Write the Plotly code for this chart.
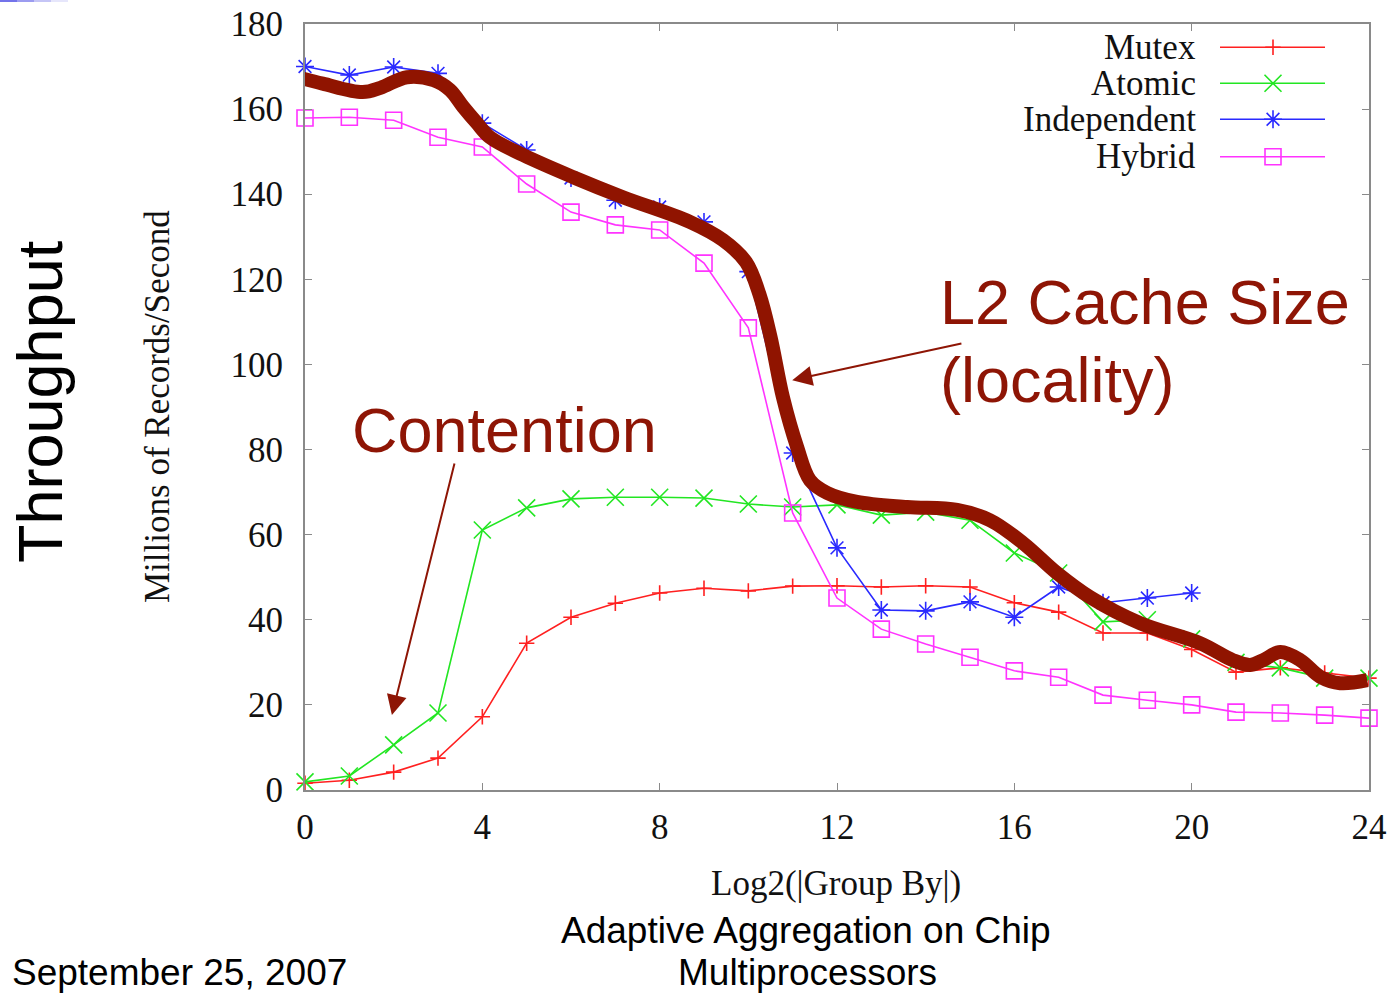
import plotly.graph_objects as go

# ---- data -----------------------------------------------------------------
group_by_log2 = list(range(0, 25))

mutex = [1.6, 2.3, 4.2, 7.5, 17.2, 34.5, 40.6, 43.9, 46.3, 47.4, 46.8, 47.9, 48.0,
         47.7, 48.0, 47.7, 44.0, 41.8, 36.9, 36.9, 33.0, 27.7, 28.7, 27.5, 26.3]
atomic = [1.9, 3.3, 10.6, 18.1, 61.1, 66.3, 68.4, 68.8, 68.8, 68.6, 67.2, 66.5, 67.0,
          64.6, 65.3, 63.4, 55.7, 51.0, 39.5, 40.0, 35.5, 30.0, 28.7, 26.3, 26.3]
independent_x = list(range(0, 21))
independent = [170.0, 168.0, 169.9, 168.4, 156.7, 150.4, 143.8, 138.6, 137.0, 133.5,
               121.8, 79.2, 56.9, 42.3, 42.1, 44.2, 40.6, 47.7, 44.0, 45.1, 46.3]
hybrid = [157.9, 158.1, 157.4, 153.4, 151.1, 142.4, 135.8, 132.8, 131.6, 123.8, 108.6,
          65.1, 45.1, 37.8, 34.3, 31.2, 28.0, 26.5, 22.3, 21.1, 20.0, 18.3, 18.1, 17.6, 16.9]

# hand-drawn trend sketched over the measurements
trend_x = [-0.2, 0.4, 1.3, 1.7, 2.3, 2.9, 3.27, 3.57, 3.88, 4.17, 4.92, 6.05, 7.17,
           8.68, 9.43, 9.95, 10.25, 10.5, 10.78, 11.10, 11.39, 11.78, 12.45, 13.58,
           14.71, 15.45, 16.20, 16.96, 17.71, 18.84, 20.19, 20.93, 21.32, 21.61, 22.0,
           22.45, 22.9, 23.35, 23.96]
trend_y = [167.6, 166.0, 164.0, 165.0, 167.5, 166.8, 164.5, 160.5, 156.7, 153.4, 149.2,
           144.0, 139.3, 133.5, 129.2, 124.0, 116.5, 106.5, 92.3, 80.6, 72.8, 69.8,
           67.7, 66.5, 65.8, 63.4, 58.0, 51.0, 45.3, 39.2, 34.5, 30.5, 29.4, 30.5, 32.4,
           30.5, 26.6, 25.1, 25.8]

series_names = ["Mutex", "Atomic", "Independent", "Hybrid"]
x_ticks = [0, 4, 8, 12, 16, 20, 24]
y_ticks = [0, 20, 40, 60, 80, 100, 120, 140, 160, 180]

# ---- styling --------------------------------------------------------------
W, H = 1395, 993
M_L, M_R, M_T, M_B = 305, 26, 24, 203
PW, PH = W - M_L - M_R, H - M_T - M_B

SERIF = "Liberation Serif, Times New Roman, serif"
SANS = "Liberation Sans, Arial, sans-serif"
DARK_RED = "#8e1505"
AXIS_GRAY = "#8a8a8a"

styles = {
    "Mutex": dict(color="#ff2020", symbol="cross-thin", size=11),
    "Atomic": dict(color="#22e622", symbol="x-thin", size=17),
    "Independent": dict(color="#2a2aff", symbol="asterisk", size=15),
    "Hybrid": dict(color="#ff33ff", symbol="square-open", size=16),
}


def px_to_paper_x(px):
    return (px - M_L) / PW


def px_to_paper_y(py):
    return (H - M_B - py) / PH


fig = go.Figure()

series = [
    ("Mutex", group_by_log2, mutex),
    ("Atomic", group_by_log2, atomic),
    ("Independent", independent_x, independent),
    ("Hybrid", group_by_log2, hybrid),
]
for name, xs, ys in series:
    st = styles[name]
    fig.add_trace(go.Scatter(
        x=xs, y=ys, mode="lines+markers", name=name, showlegend=False,
        cliponaxis=False,
        line=dict(color=st["color"], width=1.6),
        marker=dict(symbol=st["symbol"], size=st["size"], color=st["color"],
                    line=dict(color=st["color"], width=1.6)),
    ))

# thick trend stroke on top of everything
fig.add_trace(go.Scatter(
    x=trend_x, y=trend_y, mode="lines", showlegend=False, cliponaxis=False,
    line=dict(color="#901400", width=14, shape="spline", smoothing=1.0),
    hoverinfo="skip",
))

# gnuplot-style key: label on the left, sample on the right (overlay axes 0..1)
key_rows_py = [47.3, 83.3, 119.3, 156.7]
key_line_x0, key_line_x1, key_mark_x = px_to_paper_x(1220), px_to_paper_x(1325), px_to_paper_x(1273)
for name, py in zip(series_names, key_rows_py):
    st = styles[name]
    ky = px_to_paper_y(py)
    fig.add_trace(go.Scatter(
        x=[key_line_x0, key_line_x1], y=[ky, ky], xaxis="x2", yaxis="y2",
        mode="lines", showlegend=False, hoverinfo="skip",
        line=dict(color=st["color"], width=1.6),
    ))
    fig.add_trace(go.Scatter(
        x=[key_mark_x], y=[ky], xaxis="x2", yaxis="y2",
        mode="markers", showlegend=False, hoverinfo="skip",
        marker=dict(symbol=st["symbol"], size=st["size"], color=st["color"],
                    line=dict(color=st["color"], width=1.6)),
    ))
    fig.add_annotation(
        x=px_to_paper_x(1198), y=ky, xref="paper", yref="paper",
        text=name, showarrow=False, xanchor="right", yanchor="middle",
        font=dict(family=SERIF, size=35, color="#111111"),
    )

axis_common = dict(
    showgrid=False, zeroline=False, showline=True, linecolor=AXIS_GRAY, linewidth=2,
    mirror="ticks", ticks="inside", ticklen=7, tickwidth=1, tickcolor=AXIS_GRAY,
    tickfont=dict(family=SERIF, size=35, color="#111111"), automargin=False,
)

fig.update_layout(
    width=W, height=H,
    margin=dict(l=M_L, r=M_R, t=M_T, b=M_B, autoexpand=False),
    paper_bgcolor="white", plot_bgcolor="white",
    xaxis=dict(range=[0, 24], tickvals=x_ticks, ticktext=[str(v) for v in x_ticks],
               ticklabelstandoff=5, **axis_common),
    yaxis=dict(range=[0, 180], tickvals=y_ticks, ticktext=[str(v) for v in y_ticks],
               ticklabelstandoff=13, **axis_common),
    xaxis2=dict(overlaying="x", range=[0, 1], visible=False),
    yaxis2=dict(overlaying="y", range=[0, 1], visible=False),
)

# axis titles and slide text
texts = [
    ("Log2(|Group By|)", 836, 883, "center", 0, SERIF, 35, "#111111"),
    ("Millions of Records/Second", 157, 407, "center", -90, SERIF, 35, "#111111"),
    ("Throughput", 40, 402, "center", -90, SANS, 63, "#000000"),
    ("Adaptive Aggregation on Chip", 806, 930, "center", 0, SANS, 37, "#000000"),
    ("Multiprocessors", 807, 972, "center", 0, SANS, 37, "#000000"),
    ("September 25, 2007", 10, 972, "left", 0, SANS, 37, "#000000"),
    ("Contention", 504, 430, "center", 0, SANS, 63, DARK_RED),
    ("L2 Cache Size", 938, 302, "left", 0, SANS, 63, DARK_RED),
    ("(locality)", 938, 380, "left", 0, SANS, 63, DARK_RED),
]
for txt, px, py, anchor, rot, fam, size, col in texts:
    fig.add_annotation(
        x=px_to_paper_x(px), y=px_to_paper_y(py), xref="paper", yref="paper",
        text=txt, showarrow=False, xanchor=anchor, yanchor="middle", textangle=rot,
        font=dict(family=fam, size=size, color=col),
    )

# pointer arrows (tail -> head, in data units)
arrows = [
    (3.38, 77.1, 1.96, 17.6),
    (14.84, 105.0, 10.99, 96.3),
]
for tx, ty, hx, hy in arrows:
    fig.add_annotation(
        x=hx, y=hy, ax=tx, ay=ty, xref="x", yref="y", axref="x", ayref="y",
        text="", showarrow=True, arrowhead=2, arrowsize=2.0, arrowwidth=2,
        arrowcolor=DARK_RED, standoff=0,
    )

# faint accent stroke at the very top-left of the page
for i, op in enumerate([0.85, 0.6, 0.35, 0.15]):
    fig.add_shape(type="rect", xref="paper", yref="paper",
                  x0=px_to_paper_x(i * 17), x1=px_to_paper_x((i + 1) * 17),
                  y0=px_to_paper_y(2), y1=px_to_paper_y(0),
                  line=dict(width=0), fillcolor="#5a5ae6", opacity=op, layer="above")

fig.write_html("out.html")
